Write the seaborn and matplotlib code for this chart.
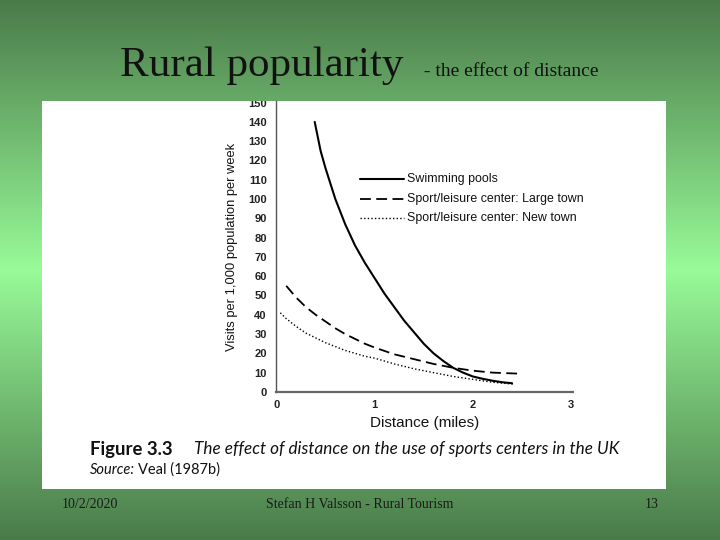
import numpy as np
import pandas as pd
import matplotlib
matplotlib.use("Agg")
import matplotlib.pyplot as plt
import seaborn as sns
from matplotlib.patches import Rectangle

# ---------------- data ----------------
swim_d = [0.39, 0.45, 0.5, 0.6, 0.7, 0.8, 0.9, 1.0, 1.1, 1.2, 1.3, 1.4, 1.5,
          1.6, 1.7, 1.8, 1.9, 2.0, 2.1, 2.2, 2.3, 2.4]
swim_v = [140, 125, 116, 100, 87, 76, 67, 59, 51, 44, 37, 31, 25,
          20, 16, 12.5, 10, 8, 6.8, 5.8, 5, 4.5]

large_d = [0.1, 0.2, 0.3, 0.4, 0.5, 0.6, 0.7, 0.8, 0.9, 1.0, 1.2, 1.4, 1.6,
           1.8, 2.0, 2.2, 2.45]
large_v = [55, 49, 44, 40, 36.5, 33, 30, 27.5, 25, 23, 19.5, 17, 14.5,
           12.5, 11, 10, 9.5]

new_d = [0.04, 0.1, 0.2, 0.3, 0.4, 0.5, 0.6, 0.7, 0.8, 0.9, 1.0, 1.2, 1.4,
         1.6, 1.8, 2.0, 2.2, 2.42]
new_v = [41, 38, 34, 30.5, 28, 25.5, 23.5, 21.5, 20, 18.5, 17.5, 14.5, 12,
         10, 8, 6.5, 5, 4]

series_names = ["Swimming pools",
                "Sport/leisure center: Large town",
                "Sport/leisure center: New town"]
x_ticks = [0, 1, 2, 3]
y_ticks = list(range(0, 151, 10))

title_main = "Rural popularity"
title_sub = " - the effect of distance"
x_label = "Distance (miles)"
y_label = "Visits per 1,000 population per week"
fig_caption_bold = "Figure 3.3"
fig_caption_italic = "The effect of distance on the use of sports centers in the UK"
source_italic = "Source:"
source_text = "Veal (1987b)"
footer_left = "10/2/2020"
footer_mid = "Stefan H Valsson - Rural Tourism"
footer_right = "13"

# ---------------- figure ----------------
sns.set_style("white")
plt.rcParams['font.family'] = ['Liberation Sans', 'DejaVu Sans']

W, H = 720, 540
fig = plt.figure(figsize=(7.2, 5.4), dpi=100)

# gradient background
bg = fig.add_axes([0, 0, 1, 1], zorder=-10)
bg.set_axis_off()
t = np.linspace(0, 1, 540)
edge = np.array([74, 122, 74]) / 255.0
mid = np.array([152, 251, 152]) / 255.0
w = 1 - np.abs(t - 0.5) / 0.5
grad = edge[None, :] * (1 - w[:, None]) + mid[None, :] * w[:, None]
img = np.repeat(grad[:, None, :], 2, axis=1)
bg.imshow(img, aspect="auto", extent=[0, 1, 0, 1], origin="upper")
bg.set_xlim(0, 1)
bg.set_ylim(0, 1)

# white picture area
rx0, ry0, rx1, ry1 = 42, 101, 666, 489
white = Rectangle((rx0 / W, 1 - ry1 / H), (rx1 - rx0) / W, (ry1 - ry0) / H,
                  transform=fig.transFigure, facecolor="white",
                  edgecolor="none", zorder=-5)
fig.patches.append(white)

# chart axes
ax_l, ax_r = 276.4, 573.0
ax_b, ax_t = 391.9, 101.0
ax = fig.add_axes([ax_l / W, 1 - ax_b / H, (ax_r - ax_l) / W, (ax_b - ax_t) / H])
ax.patch.set_alpha(0)

df = pd.concat([
    pd.DataFrame({"d": swim_d, "v": swim_v, "s": series_names[0]}),
    pd.DataFrame({"d": large_d, "v": large_v, "s": series_names[1]}),
    pd.DataFrame({"d": new_d, "v": new_v, "s": series_names[2]}),
])
styles = {series_names[0]: (None, 1.5), series_names[1]: ((0, (6, 3)), 1.3),
          series_names[2]: ((0, (1, 1.6)), 1.0)}
for name in series_names:
    sub = df[df["s"] == name]
    ls, lw = styles[name]
    sns.lineplot(data=sub, x="d", y="v", ax=ax, color="black", lw=lw,
                 estimator=None, sort=True, legend=False)
    if ls is not None:
        ax.lines[-1].set_linestyle(ls)

ax.set_xlim(0, 3.02)
ax.set_ylim(0, (ax_b - ax_t) / 1.9286)
ax.set_xticks(x_ticks)
ax.set_yticks(y_ticks)
ax.set_xticklabels([str(v) for v in x_ticks], fontsize=8, fontweight="bold")
ax.set_yticklabels([str(v) for v in y_ticks], fontsize=8, fontweight="bold")
ax.tick_params(axis="both", length=0, pad=7, colors="#222222")
ax.tick_params(axis="x", pad=6)
for s in ["top", "right"]:
    ax.spines[s].set_visible(False)
ax.spines["left"].set_color("#555555")
ax.spines["left"].set_linewidth(1.0)
ax.spines["bottom"].set_color("#666666")
ax.spines["bottom"].set_linewidth(1.6)
ax.set_xlabel(x_label, fontsize=11, color="#111111", labelpad=4)
ax.set_ylabel(y_label, fontsize=9.3, color="#111111", labelpad=7)

# clip tick labels to the white picture area
for lbl in ax.get_yticklabels():
    lbl.set_clip_path(white)

# legend drawn as lines + texts
leg_rows = [179, 199, 218]
for name, yy in zip(series_names, leg_rows):
    ls, lw = styles[name]
    yf = 1 - yy / H
    fig.add_artist(plt.Line2D([360 / W, 404 / W], [yf, yf], color="black",
                              lw=lw, linestyle=ls if ls else "-",
                              transform=fig.transFigure))
    fig.text(407 / W, yf, name, fontsize=8.9, va="center", ha="left",
             color="#111111")

# caption
cap_font = ["Lato", "DejaVu Sans"]
fig.text(90 / W, 1 - 449 / H, fig_caption_bold, fontsize=13.3, fontweight="bold",
         family=cap_font, va="center", ha="left", color="#111111")
fig.text(194 / W, 1 - 449 / H, fig_caption_italic, fontsize=12.3, style="italic",
         family=cap_font, va="center", ha="left", color="#111111")
fig.text(90 / W, 1 - 470 / H, source_italic, fontsize=10.5, style="italic",
         family=cap_font, va="center", ha="left", color="#111111")
fig.text(138 / W, 1 - 470 / H, source_text, fontsize=10.5,
         family=cap_font, va="center", ha="left", color="#111111")

# slide title
serif = ["Liberation Serif", "DejaVu Serif"]
fig.text(120 / W, 1 - 76.5 / H, title_main, fontsize=31, family=serif,
         va="baseline", ha="left", color="#111111")
fig.text(419 / W, 1 - 75.5 / H, title_sub, fontsize=14, family=serif,
         va="baseline", ha="left", color="#111111")

# footer
for txt, xx, ha in [(footer_left, 62, "left"), (footer_mid, 360, "center"),
                    (footer_right, 659, "right")]:
    fig.text(xx / W, 1 - 504 / H, txt, fontsize=10, family=serif,
             va="center", ha=ha, color="#1a1a1a")

fig.savefig("out.png", dpi=100)
